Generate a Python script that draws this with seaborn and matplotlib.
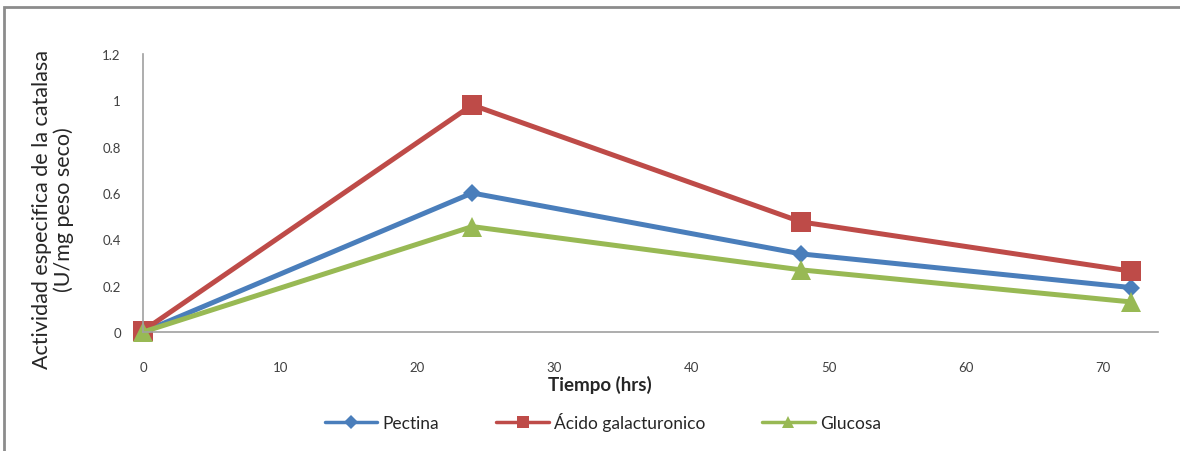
import matplotlib
matplotlib.use("Agg")
import matplotlib.pyplot as plt
import seaborn as sns
import pandas as pd
from matplotlib.patches import Rectangle
from matplotlib.lines import Line2D

tiempo = [0, 24, 48, 72]
pectina = [0.0, 0.60, 0.337, 0.192]
acido = [0.005, 0.98, 0.475, 0.263]
glucosa = [0.0, 0.455, 0.268, 0.13]
series_names = ["Pectina", "Ácido galacturonico", "Glucosa"]
x_ticks = [0, 10, 20, 30, 40, 50, 60, 70]
y_ticks = [0, 0.2, 0.4, 0.6, 0.8, 1.0, 1.2]
y_tick_labels = ["0", "0.2", "0.4", "0.6", "0.8", "1", "1.2"]

df = pd.DataFrame({
    "Tiempo": tiempo * 3,
    "Valor": pectina + acido + glucosa,
    "Serie": [series_names[0]] * 4 + [series_names[1]] * 4 + [series_names[2]] * 4,
})

sns.set_style("white")
plt.rcParams['font.family'] = ['Lato', 'DejaVu Sans']

colors = {"Pectina": "#4A7EBB", "Ácido galacturonico": "#BE4B48", "Glucosa": "#98B954"}
markers = {"Pectina": "D", "Ácido galacturonico": "s", "Glucosa": "^"}
msizes = {"Pectina": 9, "Ácido galacturonico": 14, "Glucosa": 14}

fig = plt.figure(figsize=(11.8, 4.52), dpi=100)
fig.patches.append(Rectangle((4 / 1180, -0.1), 1.2, (452 - 8) / 452 + 0.1,
                             transform=fig.transFigure, fill=False,
                             edgecolor="#8c8c8c", linewidth=2))
ax = fig.add_axes([143 / 1180, 1 - 333 / 452, (1158 - 143) / 1180, (333 - 55) / 452])

sns.lineplot(data=df, x="Tiempo", y="Valor", hue="Serie", style="Serie",
             palette=colors, markers=markers, dashes=False, linewidth=3.6,
             markeredgewidth=0, ax=ax, legend=False)
for line, name in zip(ax.lines, series_names):
    line.set_markersize(msizes[name])
    line.set_clip_on(False)

ax.set_xlim(0, 74)
ax.set_ylim(0, 1.2)
ax.set_xticks(x_ticks)
ax.set_yticks(y_ticks)
ax.set_yticklabels(y_tick_labels)
ax.tick_params(axis="both", labelsize=9.5, colors="#404040", length=4, width=1,
               direction="out")
ax.tick_params(axis="x", pad=17, color="#a0a0a0")
ax.tick_params(axis="y", pad=12, color="#a0a0a0")
for s in ["top", "right"]:
    ax.spines[s].set_visible(False)
for s in ["left", "bottom"]:
    ax.spines[s].set_color("#a0a0a0")
    ax.spines[s].set_linewidth(1.2)

ax.set_xlabel("Tiempo (hrs)", fontsize=13.5, fontweight="bold", color="#262626")
ax.xaxis.set_label_coords((600 - 143) / 1015, -(376 - 333) / 278)
ax.xaxis.label.set_va("top")
ax.set_ylabel("Actividad especifica de la catalasa\n(U/mg peso seco)", fontsize=15.5,
              color="#262626", linespacing=1.1)
ax.yaxis.set_label_coords(-(143 - 53) / 1015, 1 - (210 - 55) / 278)
ax.yaxis.label.set_va("center")

handles = [Line2D([0], [0], color=colors[n], marker=markers[n], lw=2.5,
                  markersize=(7 if n == "Pectina" else 9), markeredgewidth=0)
           for n in series_names]
fig.legend(handles, series_names, loc="center", bbox_to_anchor=(603 / 1180, 1 - 423 / 452),
           ncol=3, frameon=False, fontsize=12.5, handlelength=3, columnspacing=3.3,
           handletextpad=0.3)

fig.savefig("out.png", dpi=100)
